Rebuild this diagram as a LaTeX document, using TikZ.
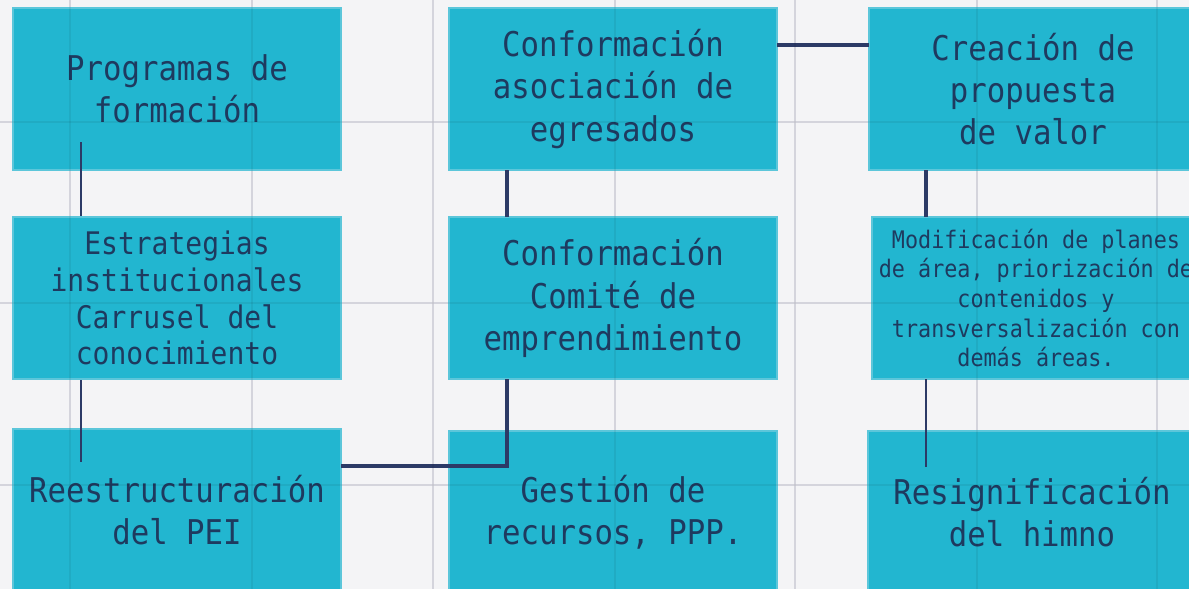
\documentclass[tikz,border=0pt]{standalone}
\usepackage{fontspec}
\usepackage{tikz}
\usetikzlibrary{positioning,calc}
\newfontfamily\notefont{DejaVu Sans Mono}[FakeStretch=0.9]
\definecolor{paper}{HTML}{F4F4F6}
\definecolor{gridline}{HTML}{E2E2EA}
\definecolor{boxfill}{HTML}{22B6D0}
\definecolor{boxedge}{HTML}{5CC6DA}
\definecolor{inkblue}{HTML}{1E3A5F}
\definecolor{linkblue}{HTML}{2C3A66}
\tikzset{
  card/.style={
  draw=boxedge,
  fill=boxfill,
  line width=1.2pt,
  minimum width=6.56cm,
  minimum height=3.24cm,
  inner sep=0pt,
  outer sep=0pt,
  align=center,
  text=inkblue,
  font={\notefont\fontsize{19.4}{24}\selectfont}
  },
  smallcard/.style={card,font={\notefont\fontsize{17.7}{21}\selectfont}},
  tinycard/.style={card,font={\notefont\fontsize{13.75}{16.8}\selectfont}},
  link/.style={draw=linkblue,line width=2pt},
  thinlink/.style={link,line width=1.1pt}
}

\begin{document}
\begin{tikzpicture}
  % papel cuadriculado
  \useasboundingbox (0,0) rectangle (23.78,-11.78);
  \fill[paper] (0,0) rectangle (23.78,-11.78);
  \foreach \gx in {1.4,5.04,8.66,12.3,15.9,19.54,23.14}
    \draw[gridline,line width=1.2pt] (\gx,0) -- (\gx,-11.78);
  \foreach \gy in {-2.44,-6.06,-9.7}
    \draw[gridline,line width=1.2pt] (0,\gy) -- (23.78,\gy);

  \node [card,anchor=north west] (p1) at (0.26,-0.16) {Programas de\\formación};
  \node [card,right=2.16cm of p1] (c1) {Conformación\\asociación de\\egresados};
  \node [card,right=1.84cm of c1] (v1) {Creación de\\propuesta\\de valor};
  \node [card,below=5.18cm of p1] (r1) {Reestructuración\\del PEI};
  \node [card,below=0.94cm of c1] (c2) {Conformación\\Comité de\\emprendimiento};
  \node [tinycard,below=0.94cm of v1,xshift=0.06cm] (m1) {Modificación de planes\\de área, priorización de\\contenidos y\\transversalización con\\demás áreas.};
  \node [card,below=1.04cm of c2] (g1) {Gestión de\\recursos, PPP.};
  \node [card,below=1.04cm of m1,xshift=-0.08cm] (h1) {Resignificación\\del himno};

  \draw[link,line width=1.4pt] ([xshift=1.36cm,yshift=0.56cm]p1.south west) -- ([xshift=1.36cm,yshift=-0.66cm]r1.north west);
  \node [smallcard,below=0.94cm of p1] (e1) {Estrategias\\institucionales\\Carrusel del\\conocimiento};

  \draw[link] ([xshift=1.16cm]c1.south west) -- ([xshift=1.16cm]c2.north west);
  \draw[link] ([xshift=1.16cm]c2.south west) |- ([yshift=0.88cm]r1.east);
  \draw[link] ([yshift=0.88cm]c1.east) -- ([yshift=0.88cm]v1.west);
  \draw[link] ([xshift=1.14cm]v1.south west) -- ([xshift=1.14cm]v1.south west |- m1.north);
  \draw[thinlink] ([xshift=1.14cm]v1.south west |- m1.south) -- ([xshift=1.14cm]v1.south west |- 0,-9.34);

  % cuadricula vista a traves del papel
  \foreach \gx in {1.4,5.04,8.66,12.3,15.9,19.54,23.14}
    \draw[black,opacity=0.06,line width=1.2pt] (\gx,0) -- (\gx,-11.78);
  \foreach \gy in {-2.44,-6.06,-9.7}
    \draw[black,opacity=0.06,line width=1.2pt] (0,\gy) -- (23.78,\gy);
\end{tikzpicture}
\end{document}
